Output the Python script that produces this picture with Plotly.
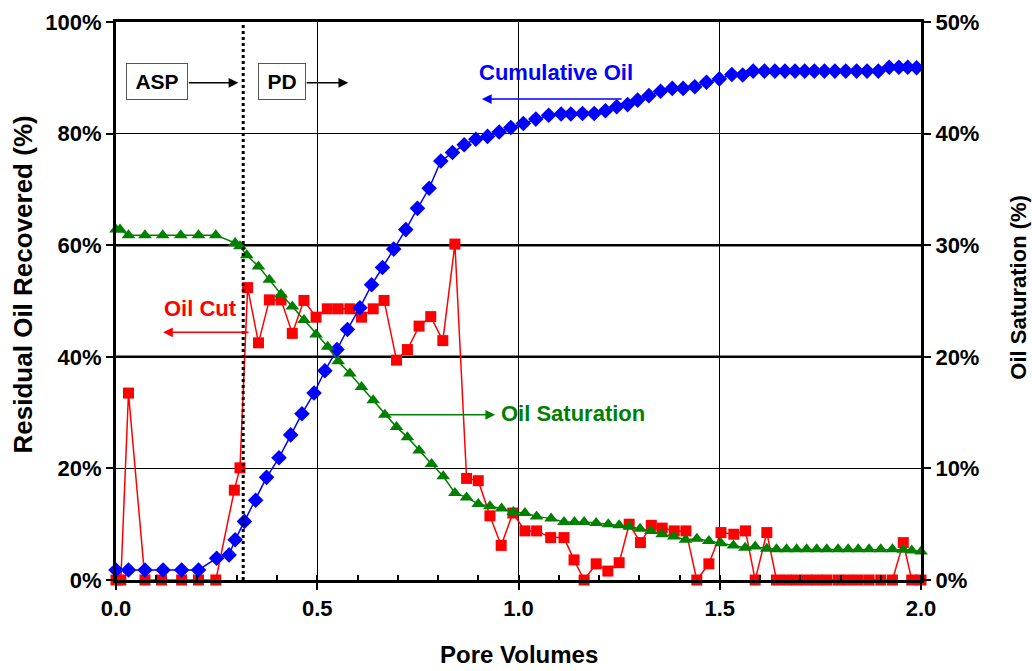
import plotly.graph_objects as go

# Cumulative oil recovered (% of residual oil), left axis
pv_cum = [0.000, 0.031, 0.072, 0.117, 0.163, 0.205, 0.250, 0.281, 0.296, 0.319,
          0.347, 0.374, 0.405, 0.434, 0.462, 0.492, 0.519, 0.549, 0.575, 0.606,
          0.635, 0.662, 0.690, 0.720, 0.749, 0.778, 0.807, 0.836, 0.865, 0.894,
          0.923, 0.952, 0.981, 1.012, 1.043, 1.075, 1.106, 1.130, 1.159, 1.188,
          1.216, 1.244, 1.271, 1.296, 1.324, 1.353, 1.382, 1.409, 1.438, 1.467,
          1.499, 1.530, 1.557, 1.583, 1.611, 1.637, 1.662, 1.687, 1.711, 1.735,
          1.760, 1.786, 1.813, 1.840, 1.866, 1.894, 1.921, 1.945, 1.967, 1.989]
cum_oil = [1.8, 1.8, 1.8, 1.8, 1.8, 1.8, 3.9, 4.5, 7.2, 10.5,
           14.3, 18.4, 21.9, 26.0, 29.8, 33.5, 37.5, 41.3, 44.9, 48.8,
           52.9, 56.0, 59.3, 62.8, 66.6, 70.2, 75.1, 76.6, 78.0, 79.0,
           79.5, 80.3, 81.1, 81.8, 82.6, 83.3, 83.5, 83.5, 83.6, 83.6,
           84.1, 84.8, 85.2, 86.0, 86.8, 87.6, 88.1, 88.1, 88.4, 89.2,
           89.8, 90.6, 90.5, 91.2, 91.2, 91.2, 91.2, 91.2, 91.2, 91.2,
           91.2, 91.2, 91.2, 91.2, 91.2, 91.2, 91.9, 91.9, 91.9, 91.8]

# Oil saturation (%), right axis
pv_sat = [0.000, 0.010, 0.031, 0.072, 0.116, 0.161, 0.205, 0.248, 0.296, 0.308,
          0.325, 0.354, 0.381, 0.410, 0.438, 0.467, 0.497, 0.526, 0.552, 0.581,
          0.610, 0.639, 0.668, 0.697, 0.724, 0.753, 0.784, 0.813, 0.842, 0.871,
          0.900, 0.929, 0.958, 0.987, 1.016, 1.045, 1.081, 1.113, 1.139, 1.163,
          1.193, 1.223, 1.250, 1.275, 1.302, 1.329, 1.357, 1.386, 1.415, 1.443,
          1.473, 1.503, 1.534, 1.563, 1.588, 1.617, 1.641, 1.666, 1.691, 1.716,
          1.741, 1.766, 1.794, 1.819, 1.844, 1.871, 1.900, 1.929, 1.956, 1.977,
          2.000]
oil_sat = [31.4, 31.4, 30.9, 30.9, 30.9, 30.9, 30.9, 30.9, 30.2, 29.9,
           29.1, 28.1, 26.9, 25.6, 24.5, 23.3, 22.0, 20.9, 19.6, 18.5,
           17.3, 16.1, 14.8, 13.7, 12.8, 11.6, 10.4, 9.3, 7.8, 7.4,
           6.8, 6.6, 6.4, 6.1, 6.0, 5.7, 5.5, 5.2, 5.2, 5.2,
           5.1, 5.0, 4.9, 4.8, 4.6, 4.4, 4.1, 3.9, 3.6, 3.7,
           3.5, 3.3, 3.1, 2.9, 3.0, 2.8, 2.75, 2.75, 2.75, 2.75,
           2.75, 2.75, 2.75, 2.75, 2.75, 2.75, 2.75, 2.75, 2.7, 2.65,
           2.55]

# Oil cut (%), left axis
pv_cut = [0.000, 0.012, 0.031, 0.072, 0.113, 0.163, 0.205, 0.248, 0.294, 0.308,
          0.327, 0.354, 0.381, 0.410, 0.438, 0.467, 0.497, 0.525, 0.552, 0.581,
          0.610, 0.639, 0.666, 0.697, 0.724, 0.753, 0.782, 0.812, 0.842, 0.871,
          0.900, 0.929, 0.957, 0.986, 1.016, 1.045, 1.080, 1.113, 1.138, 1.163,
          1.193, 1.222, 1.250, 1.275, 1.303, 1.330, 1.357, 1.387, 1.416, 1.443,
          1.473, 1.503, 1.535, 1.564, 1.588, 1.617, 1.641, 1.666, 1.691, 1.716,
          1.741, 1.766, 1.794, 1.819, 1.844, 1.871, 1.900, 1.929, 1.956, 1.977,
          2.000]
oil_cut = [0, 0, 33.5, 0, 0, 0, 0, 0, 16.1, 20.1,
           52.4, 42.5, 50.2, 50.2, 44.2, 50.1, 47.1, 48.6, 48.6, 48.6,
           47.1, 48.6, 50.1, 39.4, 41.3, 45.5, 47.2, 42.9, 60.2, 18.2,
           17.8, 11.5, 6.2, 12.0, 8.8, 8.8, 7.6, 7.6, 3.6, 0,
           2.9, 1.6, 3.1, 10.0, 6.7, 9.8, 9.3, 8.8, 8.8, 0,
           2.9, 8.5, 8.2, 8.8, 0, 8.5, 0, 0, 0, 0,
           0, 0, 0, 0, 0, 0, 0, 0, 6.7, 0,
           0]

x_ticks = [0, 0.5, 1.0, 1.5, 2.0]
x_tick_text = ["0.0", "0.5", "1.0", "1.5", "2.0"]
slug_switch = 0.316  # end of ASP slug, start of polymer drive

RED, BLUE, GREEN = "#FF0000", "#0000FF", "#008000"
FONT = "Liberation Sans, Arial, sans-serif"

fig = go.Figure()
fig.add_trace(go.Scatter(
    x=pv_cut, y=oil_cut, mode="lines+markers", name="Oil Cut",
    line=dict(color=RED, width=1.5),
    marker=dict(symbol="square", size=11, color=RED),
    cliponaxis=False))
fig.add_trace(go.Scatter(
    x=pv_cum, y=cum_oil, mode="lines+markers", name="Cumulative Oil",
    line=dict(color=BLUE, width=1.5),
    marker=dict(symbol="diamond", size=12, color=BLUE),
    cliponaxis=False))
fig.add_trace(go.Scatter(
    x=pv_sat, y=oil_sat, yaxis="y2", mode="lines+markers", name="Oil Saturation",
    line=dict(color=GREEN, width=1.5),
    marker=dict(symbol="triangle-up", size=12, color=GREEN),
    cliponaxis=False))

tick_font = dict(family=FONT, size=22, color="black", weight="bold")
note_font = dict(family=FONT, size=22, weight="bold")

fig.update_layout(
    width=1032, height=671,
    margin=dict(l=116, r=111, t=22, b=91),
    paper_bgcolor="white", plot_bgcolor="white",
    showlegend=False,
    xaxis=dict(
        range=[0, 2], tickvals=x_ticks, ticktext=x_tick_text, automargin=False,
        showgrid=True, gridcolor="black", gridwidth=1,
        showline=True, linecolor="black", linewidth=3, mirror=True,
        ticks="outside", ticklen=7, tickwidth=1.5, tickcolor="black",
        minor=dict(dtick=0.1, ticks="inside", ticklen=5, tickwidth=1.5,
                   tickcolor="black", showgrid=False),
        zeroline=False, tickfont=tick_font),
    yaxis=dict(
        range=[0, 100], dtick=20, ticksuffix="%", automargin=False,
        showgrid=True, gridcolor="black", gridwidth=1,
        showline=True, linecolor="black", linewidth=3,
        ticks="outside", ticklen=7, tickwidth=1.5, tickcolor="black",
        zeroline=False, tickfont=tick_font),
    yaxis2=dict(
        range=[0, 50], dtick=10, ticksuffix="%", overlaying="y", side="right",
        automargin=False,
        showgrid=False, showline=True, linecolor="black", linewidth=3,
        ticks="outside", ticklen=7, tickwidth=1.5, tickcolor="black",
        zeroline=False, tickfont=tick_font),
)

# heavier grid lines where both axes share a grid position
for yv in (40, 60):
    fig.add_shape(type="line", xref="x", yref="y", x0=0, x1=2, y0=yv, y1=yv,
                  line=dict(color="black", width=2.5), layer="below")

# boundary between ASP slug and polymer drive
fig.add_shape(type="line", xref="x", yref="y", x0=slug_switch, x1=slug_switch,
              y0=0, y1=100, line=dict(color="black", width=3, dash="dot"))

# axis titles
fig.add_annotation(text="Residual Oil Recovered (%)", xref="paper", yref="paper",
                   x=-0.116, y=0.529, xanchor="center", yanchor="middle",
                   textangle=-90, showarrow=False,
                   font=dict(family=FONT, size=26, color="black", weight="bold"))
fig.add_annotation(text="Oil Saturation (%)", xref="paper", yref="paper",
                   x=1.120, y=0.525, xanchor="center", yanchor="middle",
                   textangle=-90, showarrow=False,
                   font=dict(family=FONT, size=22, color="black", weight="bold"))
fig.add_annotation(text="Pore Volumes", xref="paper", yref="paper",
                   x=0.5, y=-0.134, xanchor="center", yanchor="middle",
                   showarrow=False,
                   font=dict(family=FONT, size=24, color="black", weight="bold"))

# process stage labels
for label, xc, w in (("ASP", 0.103, 54), ("PD", 0.412, 40)):
    fig.add_annotation(text=label, x=xc, y=89.3, xref="x", yref="y", showarrow=False,
                       font=dict(family=FONT, size=21, color="black", weight="bold"),
                       bgcolor="white", bordercolor="#555555", borderwidth=1,
                       borderpad=3, width=w, height=29)

def arrow(x_tail, x_head, y, color, yref="y"):
    fig.add_annotation(text="", x=x_head, y=y, ax=x_tail, ay=y,
                       xref="x", yref=yref, axref="x", ayref=yref,
                       showarrow=True, arrowhead=2, arrowsize=1.3,
                       arrowwidth=1.5, arrowcolor=color)

arrow(0.177, 0.304, 89.1, "black")
arrow(0.470, 0.577, 89.1, "black")

# series callouts
fig.add_annotation(text="Cumulative Oil", x=1.092, y=91.0, showarrow=False,
                   font=dict(note_font, color=BLUE))
arrow(1.260, 0.909, 86.2, BLUE)
fig.add_annotation(text="Oil Cut", x=0.210, y=48.7, showarrow=False,
                   font=dict(note_font, color=RED))
arrow(0.333, 0.117, 44.4, RED)
fig.add_annotation(text="Oil Saturation", x=1.135, y=29.9, showarrow=False,
                   font=dict(note_font, color=GREEN))
arrow(0.671, 0.942, 29.6, GREEN)

fig.write_html("out.html")
